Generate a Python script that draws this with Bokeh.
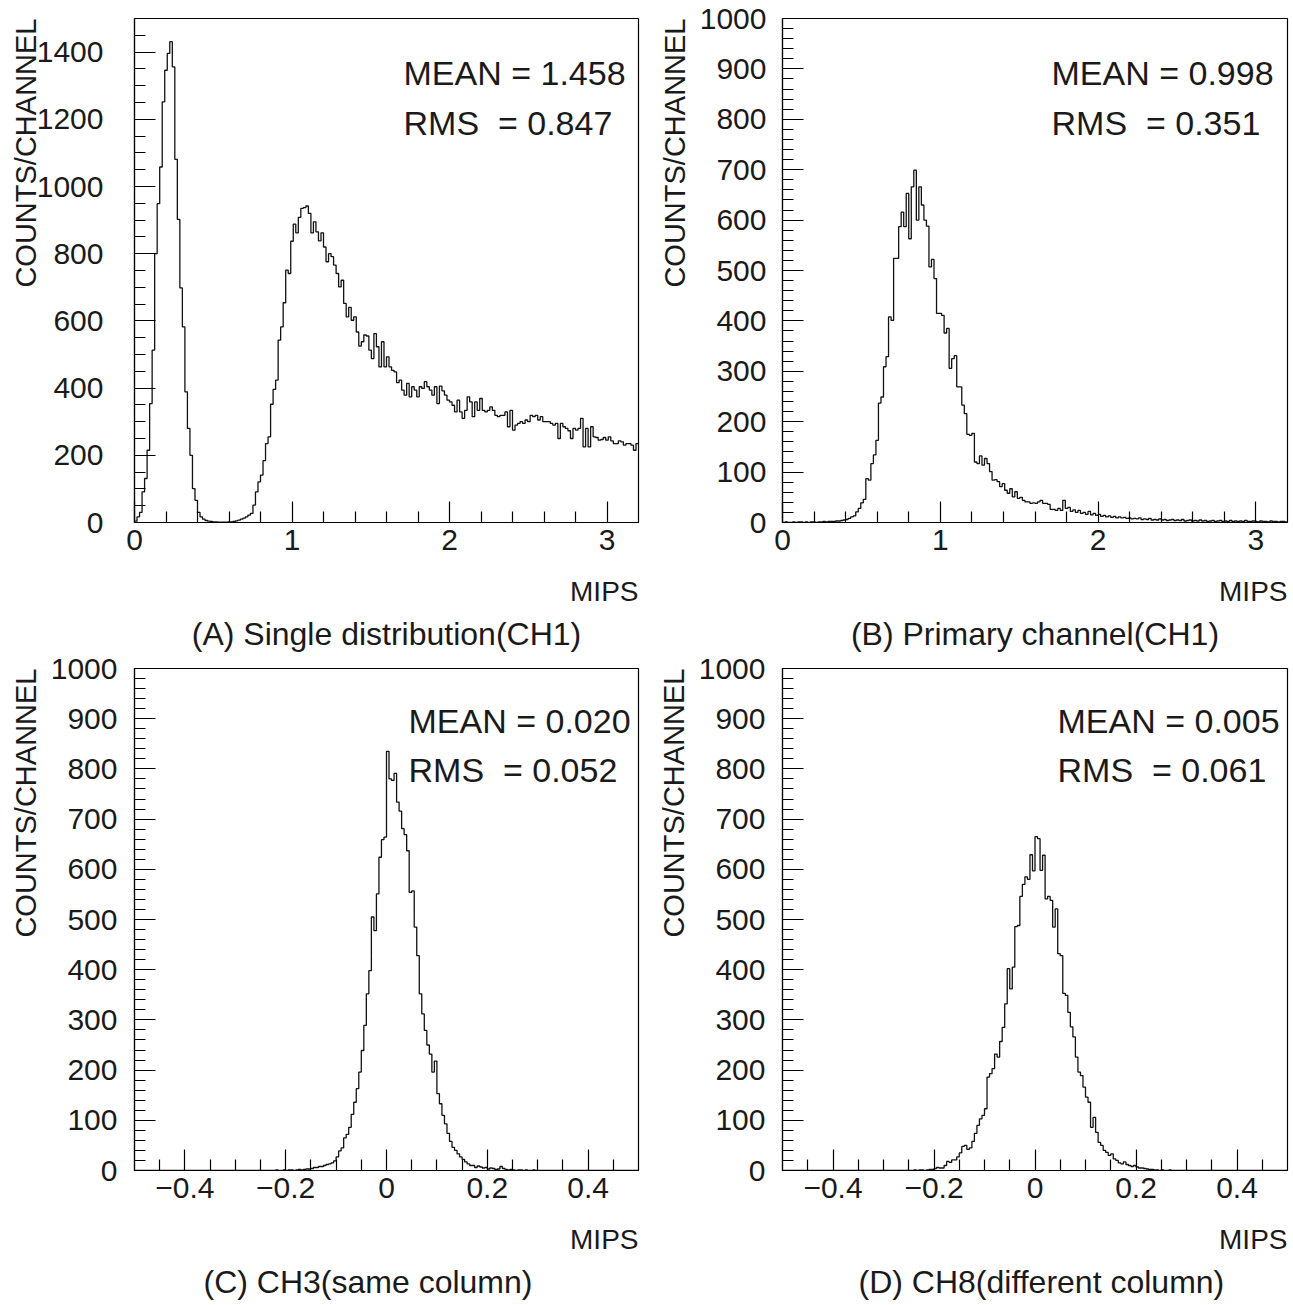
import numpy as np
from bokeh.plotting import figure
from bokeh.models import Range1d, FixedTicker, Label, Title
from bokeh.layouts import column, row
from bokeh.embed import file_html
from bokeh.resources import INLINE

FONT = "Liberation Sans"
INK = "#1a1a1a"

# ---------------- data (counts per channel, 200 channels each) ----------------
counts_a = [
    4, 17, 30, 91, 131, 215, 354, 513, 800, 949,
    1058, 1252, 1346, 1396, 1431, 1356, 1081, 902, 698, 582,
    389, 280, 200, 101, 66, 30, 17, 10, 6, 4,
    3, 2, 2, 1, 1, 1, 1, 2, 2, 3,
    5, 7, 10, 13, 17, 22, 27, 52, 91, 121,
    141, 184, 235, 255, 352, 396, 424, 543, 582, 654,
    751, 741, 837, 888, 862, 908, 935, 937, 942, 920,
    862, 895, 865, 838, 862, 820, 776, 800, 791, 766,
    741, 701, 721, 652, 612, 640, 602, 612, 567, 525,
    538, 558, 555, 513, 488, 562, 523, 463, 538, 463,
    493, 463, 453, 448, 416, 424, 394, 379, 414, 374,
    404, 394, 374, 404, 399, 419, 404, 394, 379, 404,
    354, 406, 392, 379, 364, 359, 349, 329, 364, 329,
    310, 334, 374, 359, 315, 359, 334, 369, 334, 329,
    334, 344, 334, 319, 315, 319, 319, 329, 285, 334,
    275, 290, 295, 300, 295, 305, 300, 319, 315, 319,
    305, 315, 300, 300, 300, 295, 290, 295, 250, 295,
    285, 280, 273, 250, 280, 275, 280, 310, 225, 280,
    225, 285, 255, 253, 245, 247, 253, 245, 255, 243,
    235, 235, 243, 240, 230, 235, 235, 230, 215, 235,
]

counts_b = [
    0, 1, 0, 0, 1, 0, 1, 1, 0, 1,
    0, 1, 1, 0, 1, 1, 2, 1, 2, 2,
    2, 3, 3, 4, 5, 6, 8, 11, 13, 21,
    28, 39, 46, 87, 84, 117, 134, 163, 237, 249,
    309, 329, 408, 401, 524, 524, 587, 616, 587, 653,
    563, 666, 699, 600, 666, 630, 600, 588, 507, 522,
    484, 415, 415, 411, 376, 385, 306, 325, 331, 269,
    269, 233, 216, 175, 173, 177, 120, 117, 132, 114,
    127, 117, 101, 84, 85, 81, 71, 77, 64, 58,
    67, 51, 61, 48, 50, 44, 41, 41, 38, 39,
    38, 41, 44, 38, 38, 36, 26, 26, 24, 28,
    24, 44, 28, 30, 22, 25, 20, 24, 18, 20,
    16, 22, 15, 18, 14, 16, 12, 14, 11, 13,
    10, 12, 9, 11, 9, 10, 8, 9, 7, 8,
    7, 9, 6, 7, 6, 8, 5, 6, 5, 7,
    5, 6, 4, 5, 6, 4, 5, 4, 6, 3,
    4, 5, 3, 4, 3, 5, 3, 4, 2, 3,
    4, 2, 3, 4, 2, 3, 2, 4, 2, 3,
    2, 3, 2, 4, 2, 2, 3, 2, 1, 3,
    2, 2, 1, 3, 2, 2, 1, 2, 2, 1,
]

counts_c = [
    0, 0, 0, 0, 0, 0, 0, 0, 0, 0,
    0, 0, 0, 0, 0, 0, 0, 0, 0, 0,
    0, 0, 0, 0, 0, 0, 0, 0, 0, 0,
    0, 0, 0, 0, 0, 0, 0, 0, 0, 0,
    0, 0, 0, 0, 0, 0, 0, 0, 0, 0,
    0, 0, 0, 0, 0, 0, 1, 0, 0, 1,
    0, 1, 1, 0, 1, 2, 1, 2, 3, 3,
    4, 6, 6, 8, 8, 10, 12, 13, 15, 19,
    27, 39, 45, 65, 72, 86, 112, 136, 163, 196,
    239, 289, 352, 398, 505, 478, 551, 624, 659, 664,
    835, 780, 777, 791, 734, 716, 681, 669, 637, 554,
    557, 485, 428, 352, 312, 279, 250, 232, 196, 218,
    153, 133, 110, 93, 74, 58, 46, 40, 33, 27,
    22, 17, 13, 10, 10, 6, 9, 7, 5, 6,
    3, 5, 4, 2, 3, 8, 4, 2, 1, 2,
    1, 0, 1, 1, 0, 1, 0, 0, 1, 0,
    0, 0, 0, 0, 0, 0, 0, 0, 0, 0,
    0, 0, 0, 0, 0, 0, 0, 0, 0, 0,
    0, 0, 0, 0, 0, 0, 0, 0, 0, 0,
    0, 0, 0, 0, 0, 0, 0, 0, 0, 0,
]

counts_d = [
    0, 0, 0, 0, 0, 0, 0, 0, 0, 0,
    0, 0, 0, 0, 0, 0, 0, 0, 0, 0,
    0, 0, 0, 0, 0, 0, 0, 0, 0, 0,
    0, 0, 0, 0, 0, 0, 0, 0, 0, 0,
    0, 0, 0, 0, 0, 0, 0, 0, 0, 0,
    0, 0, 1, 0, 1, 1, 0, 1, 2, 2,
    4, 6, 5, 5, 10, 18, 16, 21, 21, 27,
    35, 48, 50, 42, 45, 58, 74, 90, 103, 110,
    123, 186, 193, 203, 232, 226, 257, 285, 332, 402,
    362, 405, 486, 488, 546, 570, 585, 580, 629, 597,
    665, 661, 598, 628, 541, 546, 538, 485, 521, 432,
    428, 353, 349, 315, 286, 266, 226, 196, 189, 166,
    146, 136, 86, 106, 76, 56, 50, 40, 36, 30,
    33, 23, 20, 15, 13, 17, 12, 10, 8, 10,
    7, 5, 5, 4, 3, 2, 2, 1, 1, 0,
    1, 0, 0, 1, 0, 0, 0, 0, 0, 0,
    0, 0, 0, 0, 0, 0, 0, 0, 0, 0,
    0, 0, 0, 0, 0, 0, 0, 0, 0, 0,
    0, 0, 0, 0, 0, 0, 0, 0, 0, 0,
    0, 0, 0, 0, 0, 0, 0, 0, 0, 0,
]

mean_texts = ["MEAN = 1.458", "MEAN = 0.998", "MEAN = 0.020", "MEAN = 0.005"]
rms_texts = ["RMS \u00a0= 0.847", "RMS \u00a0= 0.351", "RMS \u00a0= 0.052", "RMS \u00a0= 0.061"]
captions = ["(A) Single distribution(CH1)", "(B) Primary channel(CH1)",
            "(C) CH3(same column)", "(D) CH8(different column)"]
x_title = "MIPS"
y_title = "COUNTS/CHANNEL"

x_ticks_ab = [0, 1, 2, 3]
x_ticks_cd = [-0.4, -0.2, 0, 0.2, 0.4]
x_tick_labels_cd = {-0.4: "\u22120.4", -0.2: "\u22120.2", 0: "0", 0.2: "0.2", 0.4: "0.4"}
y_ticks_a = [0, 200, 400, 600, 800, 1000, 1200, 1400]
y_ticks_bcd = [0, 100, 200, 300, 400, 500, 600, 700, 800, 900, 1000]


def px2x(px, frame, xr):
    L, T, R, B = frame
    return xr[0] + (px - L) / (R - L) * (xr[1] - xr[0])


def py2y(py, frame, yr):
    L, T, R, B = frame
    return yr[0] + (B - py) / (B - T) * (yr[1] - yr[0])


def make_panel(counts, xr, yr, xmaj, xmin, ymaj, ymin, frame, box,
               mean_t, rms_t, cap, stat_x, stat_y1, stat_y2,
               cap_align, cap_offset, ystand, ytitle_standoff, xlab_over=None):
    L, T, R, B = frame
    bx0, by0, bx1, by1 = box
    p = figure(frame_width=R - L, frame_height=B - T,
               min_border_left=L - bx0, min_border_right=bx1 - R,
               min_border_top=T - by0, min_border_bottom=by1 - B,
               x_range=Range1d(*xr), y_range=Range1d(*yr),
               output_backend="svg", toolbar_location=None)
    p.background_fill_color = "white"
    p.border_fill_color = "white"
    p.outline_line_color = "black"
    p.outline_line_width = 1.2
    p.xgrid.visible = False
    p.ygrid.visible = False

    n = len(counts)
    edges = np.linspace(xr[0], xr[1], n + 1)
    xs = list(edges)
    ys = list(counts) + [counts[-1]]
    p.step(x=xs, y=ys, mode="after", line_color="#111111", line_width=1.3)

    for ax, maj, mn in ((p.xaxis[0], xmaj, xmin), (p.yaxis[0], ymaj, ymin)):
        ax.ticker = FixedTicker(ticks=maj, minor_ticks=mn)
        ax.major_tick_in = 21
        ax.major_tick_out = 0
        ax.minor_tick_in = 11
        ax.minor_tick_out = 0
        ax.major_tick_line_color = "black"
        ax.minor_tick_line_color = "black"
        ax.axis_line_color = "black"
        ax.axis_line_width = 1.2
        ax.major_tick_line_width = 1.2
        ax.minor_tick_line_width = 1.2
        ax.major_label_text_font = FONT
        ax.major_label_text_font_size = "30px"
        ax.major_label_text_color = INK
    p.xaxis[0].major_label_standoff = 7
    p.yaxis[0].major_label_standoff = ystand
    if xlab_over:
        p.xaxis[0].major_label_overrides = xlab_over

    for text, py in ((mean_t, stat_y1), (rms_t, stat_y2)):
        p.add_layout(Label(x=px2x(stat_x, frame, xr), y=py2y(py, frame, yr),
                           text=text, text_font=FONT, text_font_size="34px",
                           text_align="left", text_baseline="alphabetic",
                           text_color=INK))

    p.add_layout(Title(text=x_title, align="right", vertical_align="top",
                       standoff=46, offset=0, text_font=FONT,
                       text_font_size="28px", text_font_style="normal",
                       text_color=INK), "below")
    p.add_layout(Title(text=cap, align=cap_align, vertical_align="top",
                       standoff=-32, offset=cap_offset, text_font=FONT,
                       text_font_size="32px", text_font_style="normal",
                       text_color=INK), "below")
    p.add_layout(Title(text=y_title, align="right", vertical_align="bottom",
                       standoff=ytitle_standoff, offset=0, text_font=FONT,
                       text_font_size="29px", text_font_style="normal",
                       text_color=INK), "left")
    return p


fA = (134, 18, 638, 522)
fB = (782, 18, 1287, 522)
fC = (134, 668, 638, 1170)
fD = (782, 668, 1287, 1170)
bA = (0, 0, 646, 652)
bB = (646, 0, 1291, 652)
bC = (0, 652, 646, 1300)
bD = (646, 652, 1291, 1300)

minor_ab = [round(0.2 * i, 2) for i in range(1, 16) if i % 5 != 0]
minor_cd = [round(-0.45 + 0.05 * i, 2) for i in range(0, 19) if round(-0.45 + 0.05 * i, 2) not in x_ticks_cd]
minor_ya = [50 * i for i in range(1, 30) if i % 4 != 0]
minor_yb = [20 * i for i in range(1, 50) if i % 5 != 0]

pA = make_panel(counts_a, (0, 3.2), (0, 1500), x_ticks_ab, minor_ab, y_ticks_a, minor_ya,
                fA, bA, mean_texts[0], rms_texts[0], captions[0], 403, 72, 122,
                "center", 0, 31, -16)
pB = make_panel(counts_b, (0, 3.2), (0, 1000), x_ticks_ab, minor_ab, y_ticks_bcd, minor_yb,
                fB, bB, mean_texts[1], rms_texts[1], captions[1], 1051, 72, 122,
                "center", 0, 16, 12)
pC = make_panel(counts_c, (-0.5, 0.5), (0, 1000), x_ticks_cd, minor_cd, y_ticks_bcd, minor_yb,
                fC, bC, mean_texts[2], rms_texts[2], captions[2], 408, 720, 769,
                "left", 69, 17, 12, x_tick_labels_cd)
pD = make_panel(counts_d, (-0.5, 0.5), (0, 1000), x_ticks_cd, minor_cd, y_ticks_bcd, minor_yb,
                fD, bD, mean_texts[3], rms_texts[3], captions[3], 1057, 720, 769,
                "left", 76, 17, 12, x_tick_labels_cd)

layout = column(row(pA, pB), row(pC, pD))
open("out.html", "w").write(file_html(layout, INLINE, "MIPS distributions"))
